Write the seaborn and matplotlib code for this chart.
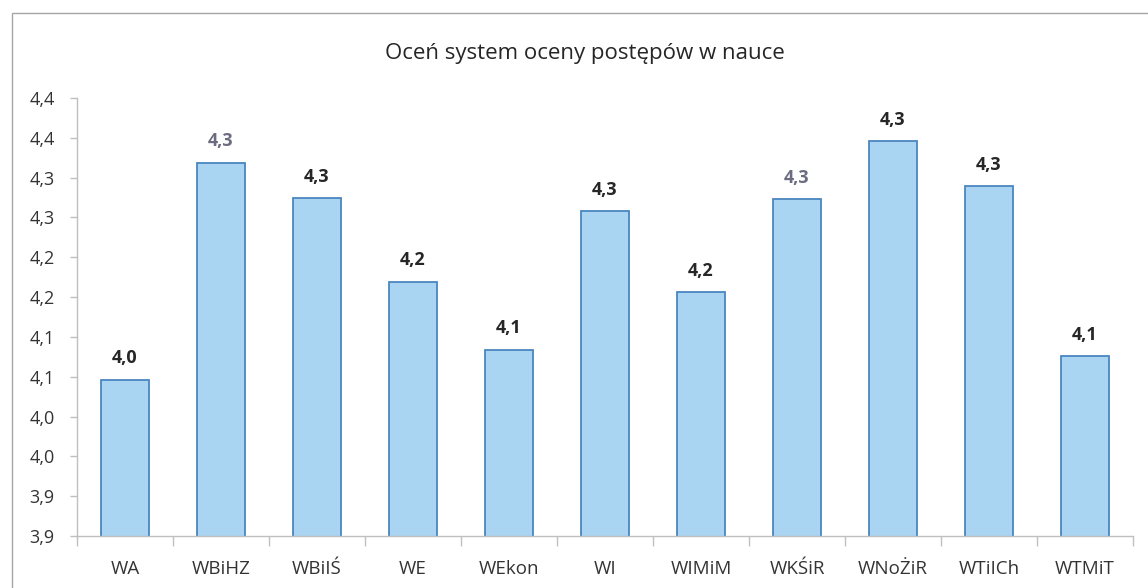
import matplotlib
matplotlib.use('Agg')
import matplotlib.pyplot as plt
import seaborn as sns
import pandas as pd
from matplotlib.patches import Rectangle
from matplotlib.ticker import FixedLocator

# ---- data ----
categories = ['WA', 'WBiHZ', 'WBiIŚ', 'WE', 'WEkon', 'WI', 'WIMiM', 'WKŚiR', 'WNoŻiR', 'WTiICh', 'WTMiT']
values = [4.046, 4.319, 4.274, 4.169, 4.084, 4.258, 4.156, 4.273, 4.346, 4.289, 4.076]
value_labels = ['4,0', '4,3', '4,3', '4,2', '4,1', '4,3', '4,2', '4,3', '4,3', '4,3', '4,1']
label_colors = ['#262626', '#6c6c80', '#262626', '#262626', '#262626', '#262626',
                '#262626', '#6c6c80', '#262626', '#262626', '#262626']
y_ticks = [3.85, 3.90, 3.95, 4.00, 4.05, 4.10, 4.15, 4.20, 4.25, 4.30, 4.35, 4.40]
y_tick_labels = ['3,9', '3,9', '4,0', '4,0', '4,1', '4,1', '4,2', '4,2', '4,3', '4,3', '4,4', '4,4']
title = 'Oceń system oceny postępów w nauce'

sns.set_theme(style='white')
plt.rcParams['font.family'] = ['Open Sans', 'DejaVu Sans']

W, H = 1148, 588
fig = plt.figure(figsize=(W / 100, H / 100), dpi=100)
fig.patch.set_facecolor('white')

# chart frame
fig.add_artist(Rectangle((12 / W, -0.05), 1.2, 1 - 13 / H + 0.05, transform=fig.transFigure,
                         fill=False, edgecolor='#a6a6a6', linewidth=1.0, clip_on=False))

ax = fig.add_axes([77 / W, 52 / H, 1056 / W, 438 / H])
df = pd.DataFrame({'cat': categories, 'val': values})
sns.barplot(data=df, x='cat', y='val', ax=ax, color='#a9d4f2', saturation=1,
            width=0.5, edgecolor='#4a86bf', linewidth=1.3)

ax.set_xlim(-0.5, len(categories) - 0.5)
ax.set_ylim(y_ticks[0], y_ticks[-1])
ax.set_yticks(y_ticks)
ax.set_yticklabels(y_tick_labels)
ax.set_xlabel('')
ax.set_ylabel('')

for sp in ['top', 'right']:
    ax.spines[sp].set_visible(False)
for sp in ['left', 'bottom']:
    ax.spines[sp].set_color('#bfbfbf')
    ax.spines[sp].set_linewidth(1.0)

ax.tick_params(axis='y', which='major', left=True, length=5, width=1, color='#bfbfbf',
               pad=11, labelsize=13, labelcolor='#333333')
ax.tick_params(axis='x', which='major', bottom=False, length=0, pad=17,
               labelsize=13.5, labelcolor='#333333')
ax.xaxis.set_minor_locator(FixedLocator([i - 0.5 for i in range(len(categories) + 1)]))
ax.tick_params(axis='x', which='minor', bottom=True, length=7, width=1, color='#bfbfbf')

for i, (v, lab, c) in enumerate(zip(values, value_labels, label_colors)):
    ax.annotate(lab, (i, v), xytext=(0, 9), textcoords='offset points',
                ha='center', va='bottom', fontsize=13, fontweight='bold', color=c)

fig.text(585 / W, 1 - 53 / H, title, ha='center', va='center', fontsize=16, color='#262626')

fig.savefig('out.png', dpi=100, facecolor='white')
